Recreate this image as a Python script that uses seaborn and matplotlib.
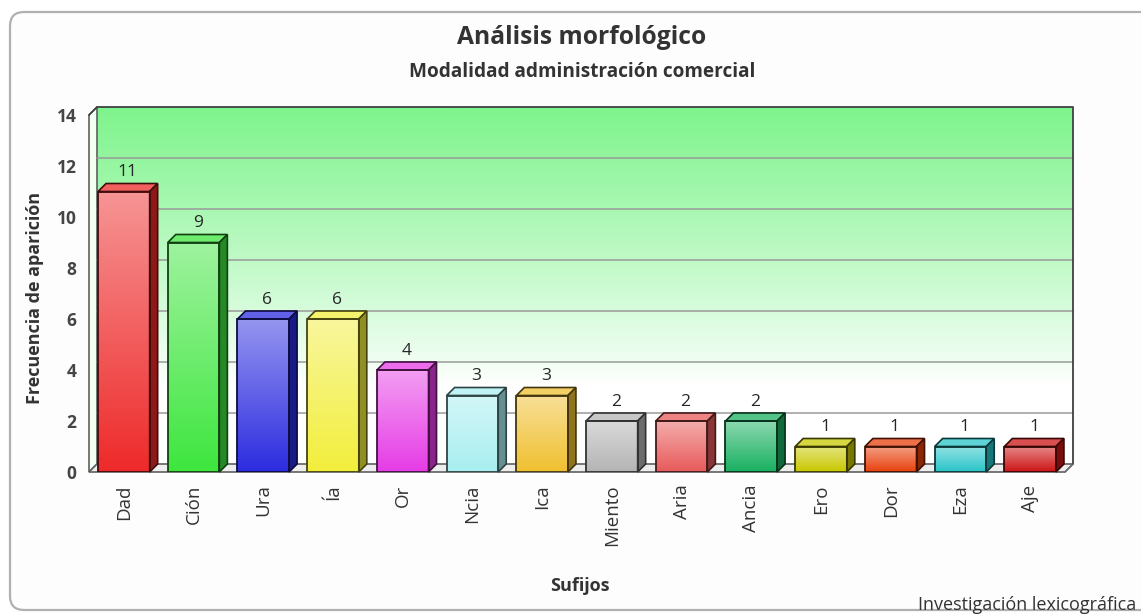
import numpy as np
import matplotlib.pyplot as plt
import matplotlib.colors as mcolors
import matplotlib.transforms as mtransforms
from matplotlib.patches import Polygon, FancyBboxPatch
import seaborn as sns

# data
sufijos = ["Dad", "Ción", "Ura", "Ía", "Or", "Ncia", "Ica", "Miento",
           "Aria", "Ancia", "Ero", "Dor", "Eza", "Aje"]
frecuencia = [11, 9, 6, 6, 4, 3, 3, 2, 2, 2, 1, 1, 1, 1]
colores = ["#ee2a2a", "#3ee63e", "#2c2ce0", "#f2ee3c", "#e63ce6", "#a8eef0",
           "#f0c030", "#b4b4b4", "#e85a5a", "#18b060", "#c8c800", "#e8400c",
           "#28c4c8", "#cc1414"]
y_ticks = [0, 2, 4, 6, 8, 10, 12, 14]

W, H = 1141, 616


def rect(x0, y0, x1, y1):
    # pixel box (top-left origin) -> figure fraction
    return [x0 / W, 1 - y1 / H, (x1 - x0) / W, (y1 - y0) / H]


def mix(c, other, t):
    a = np.array(mcolors.to_rgb(c))
    b = np.array(mcolors.to_rgb(other))
    return tuple(a * (1 - t) + b * t)


sns.set_theme(style="white")
plt.rcParams['font.family'] = ['Open Sans', 'DejaVu Sans']

fig = plt.figure(figsize=(W / 100, H / 100), dpi=100)
fig.patch.set_facecolor("white")

# outer rounded frame (pixel coords), runs off the right edge
frame = FancyBboxPatch((10, 6), 1200, 598, boxstyle="round,pad=0,rounding_size=14",
                       transform=mtransforms.IdentityTransform(),
                       facecolor="#fdfdfd", edgecolor="#b0b0b0", lw=1.6, zorder=-5)
fig.add_artist(frame)

ax = fig.add_axes(rect(89, 115, 1065, 472))
ax.set_zorder(2)
ax.patch.set_visible(False)
for s in ax.spines.values():
    s.set_visible(False)

n = len(sufijos)
xmin, xmax, ymax = -0.5, n - 0.5, 14
dx = 8 * (xmax - xmin) / 976
dy = 8 * ymax / 357

sns.barplot(x=sufijos, y=frecuencia, hue=sufijos, palette=colores, width=0.74,
            legend=False, ax=ax, zorder=2)
bars = sorted([b for cont in ax.containers for b in cont], key=lambda p: p.get_x())

# back wall gradient
grad = np.linspace(0, 1, 256)
top = np.array(mcolors.to_rgb("#7ef48c"))
t = np.clip((grad - 0.22) / 0.78, 0, 1) ** 0.9
img = np.ones((256, 1, 3)) * (1 - t[:, None, None]) + top[None, None, :] * t[:, None, None]
ax.imshow(img, origin="lower", aspect="auto",
          extent=(xmin + dx, xmax + dx, dy, ymax + dy), zorder=0, clip_on=False)

# left wall and floor
ax.add_patch(Polygon([(xmin, 0), (xmin + dx, dy), (xmin + dx, ymax + dy), (xmin, ymax)],
                     closed=True, facecolor="#f4fff4", edgecolor="#606060", lw=1.2,
                     zorder=0.5, clip_on=False))
ax.add_patch(Polygon([(xmin, 0), (xmax, 0), (xmax + dx, dy), (xmin + dx, dy)],
                     closed=True, facecolor="#eeeeee", edgecolor="#606060", lw=1.2,
                     zorder=0.5, clip_on=False))

# grid lines on the back wall
for v in y_ticks[1:-1]:
    ax.plot([xmin + dx, xmax + dx], [v + dy, v + dy], color="#9a9a9a", lw=1.1,
            zorder=0.6, clip_on=False)
ax.plot([xmin + dx, xmax + dx, xmax + dx], [ymax + dy, ymax + dy, dy],
        color="#404040", lw=1.3, zorder=0.7, clip_on=False)
ax.plot([xmin, xmin + dx], [ymax, ymax + dy], color="#404040", lw=1.2, zorder=0.7, clip_on=False)
ax.plot([xmax, xmax + dx], [0, dy], color="#707070", lw=1.0, zorder=0.7, clip_on=False)

for bar, c, v in zip(bars, colores, frecuencia):
    x0, w, h = bar.get_x(), bar.get_width(), bar.get_height()
    edge = mix(c, "black", 0.72)
    # vertical gradient on the front face
    g = np.linspace(0, 1, 128)[:, None]
    light = np.array(mix(c, "white", 0.5))
    base = np.array(mcolors.to_rgb(c))
    face = base[None, None, :] * (1 - g[..., None]) + light[None, None, :] * g[..., None]
    im = ax.imshow(face, origin="lower", aspect="auto", extent=(x0, x0 + w, 0, h), zorder=2.1)
    im.set_clip_path(bar)
    bar.set_facecolor("none")
    bar.set_edgecolor(edge)
    bar.set_linewidth(1.3)
    bar.set_zorder(2.3)
    # top and side faces
    ax.add_patch(Polygon([(x0, h), (x0 + w, h), (x0 + w + dx, h + dy), (x0 + dx, h + dy)],
                         closed=True, facecolor=mix(c, "white", 0.25), edgecolor=edge,
                         lw=1.2, zorder=2.2, clip_on=False))
    ax.add_patch(Polygon([(x0 + w, 0), (x0 + w + dx, dy), (x0 + w + dx, h + dy), (x0 + w, h)],
                         closed=True, facecolor=mix(c, "black", 0.4), edgecolor=edge,
                         lw=1.2, zorder=2.2, clip_on=False))
    ax.text(x0 + w / 2 + dx / 2, h + dy + 0.12, str(v), ha="center", va="bottom",
            fontsize=12.5, color="#262626", zorder=3)

ax.set_xlim(xmin, xmax)
ax.set_ylim(0, ymax)
ax.set_yticks(y_ticks)
ax.set_yticklabels([str(v) for v in y_ticks], fontsize=12.5, fontweight="bold", color="#454545")
ax.tick_params(axis="y", length=0, pad=9)
ax.tick_params(axis="x", length=0, pad=9)
ax.set_xticks(range(n))
ax.set_xticklabels(sufijos, rotation=90, fontsize=13.5, color="#333333")

ax.set_xlabel("Sufijos", fontsize=13, fontweight="bold", color="#333333", labelpad=12)
ax.xaxis.set_label_coords((580 - 89) / 976, -(577 - 472) / 357)
ax.set_ylabel("Frecuencia de aparición", fontsize=13, fontweight="bold", color="#333333")
ax.yaxis.set_label_coords(-(89 - 44) / 976, (472 - 298) / 357)

fig.text(582 / W, 1 - 38 / H, "Análisis morfológico", ha="center", va="center",
         fontsize=17.7, fontweight="bold", color="#333333")
fig.text(582 / W, 1 - 72 / H, "Modalidad administración comercial", ha="center", va="center",
         fontsize=13.7, fontweight="bold", color="#333333")
fig.text(918 / W, 1 - 605 / H, "Investigación lexicográfica", ha="left", va="center",
         fontsize=13, color="#333333")

fig.savefig("out.png", dpi=100)
